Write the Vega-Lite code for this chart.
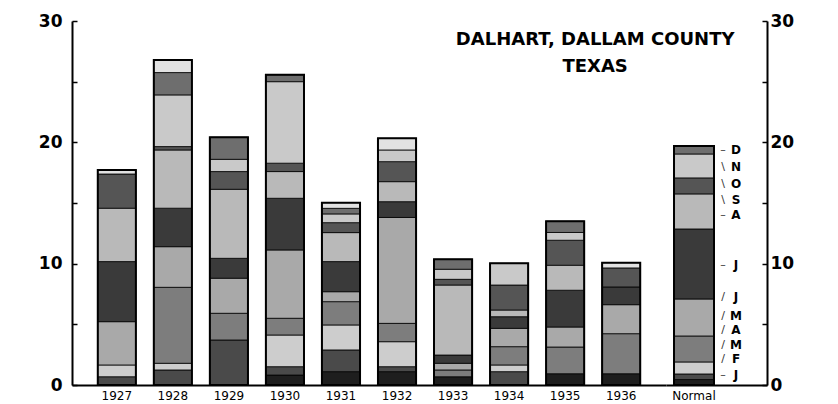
{
  "$schema": "https://vega.github.io/schema/vega-lite/v6.json",
  "background": "white",
  "padding": {"left": 38, "top": 12, "right": 0, "bottom": 0},
  "spacing": 0,
  "bounds": "flush",
  "config": {
    "view": {"stroke": null},
    "font": "DejaVu Sans",
    "axis": {"grid": false, "domainColor": "black", "domainWidth": 2, "tickColor": "black", "tickWidth": 1.5, "labelColor": "black", "labelFont": "DejaVu Sans"}
  },
  "datasets": {
    "years": [
      {"year": "1927", "month": "Feb", "m": 2, "v": 0.68},
      {"year": "1927", "month": "Mar", "m": 3, "v": 0.97},
      {"year": "1927", "month": "May", "m": 5, "v": 3.57},
      {"year": "1927", "month": "Jun", "m": 6, "v": 4.95},
      {"year": "1927", "month": "Jul", "m": 7, "v": 4.4},
      {"year": "1927", "month": "Aug", "m": 8, "v": 2.82},
      {"year": "1927", "month": "Nov", "m": 11, "v": 0.33},
      {"year": "1928", "month": "Feb", "m": 2, "v": 1.24},
      {"year": "1928", "month": "Mar", "m": 3, "v": 0.55},
      {"year": "1928", "month": "Apr", "m": 4, "v": 6.26},
      {"year": "1928", "month": "May", "m": 5, "v": 3.35},
      {"year": "1928", "month": "Jun", "m": 6, "v": 3.17},
      {"year": "1928", "month": "Jul", "m": 7, "v": 4.8},
      {"year": "1928", "month": "Aug", "m": 8, "v": 0.28},
      {"year": "1928", "month": "Sep", "m": 9, "v": 4.26},
      {"year": "1928", "month": "Oct", "m": 10, "v": 1.84},
      {"year": "1928", "month": "Nov", "m": 11, "v": 1.04},
      {"year": "1929", "month": "Feb", "m": 2, "v": 3.71},
      {"year": "1929", "month": "Apr", "m": 4, "v": 2.2},
      {"year": "1929", "month": "May", "m": 5, "v": 2.89},
      {"year": "1929", "month": "Jun", "m": 6, "v": 1.64},
      {"year": "1929", "month": "Jul", "m": 7, "v": 5.69},
      {"year": "1929", "month": "Aug", "m": 8, "v": 1.46},
      {"year": "1929", "month": "Sep", "m": 9, "v": 1.01},
      {"year": "1929", "month": "Oct", "m": 10, "v": 1.82},
      {"year": "1930", "month": "Jan", "m": 1, "v": 0.82},
      {"year": "1930", "month": "Feb", "m": 2, "v": 0.69},
      {"year": "1930", "month": "Mar", "m": 3, "v": 2.61},
      {"year": "1930", "month": "Apr", "m": 4, "v": 1.38},
      {"year": "1930", "month": "May", "m": 5, "v": 5.63},
      {"year": "1930", "month": "Jun", "m": 6, "v": 4.26},
      {"year": "1930", "month": "Jul", "m": 7, "v": 2.2},
      {"year": "1930", "month": "Aug", "m": 8, "v": 0.69},
      {"year": "1930", "month": "Sep", "m": 9, "v": 6.72},
      {"year": "1930", "month": "Oct", "m": 10, "v": 0.56},
      {"year": "1931", "month": "Jan", "m": 1, "v": 1.1},
      {"year": "1931", "month": "Feb", "m": 2, "v": 1.79},
      {"year": "1931", "month": "Mar", "m": 3, "v": 2.06},
      {"year": "1931", "month": "Apr", "m": 4, "v": 1.92},
      {"year": "1931", "month": "May", "m": 5, "v": 0.82},
      {"year": "1931", "month": "Jun", "m": 6, "v": 2.48},
      {"year": "1931", "month": "Jul", "m": 7, "v": 2.39},
      {"year": "1931", "month": "Aug", "m": 8, "v": 0.82},
      {"year": "1931", "month": "Sep", "m": 9, "v": 0.72},
      {"year": "1931", "month": "Oct", "m": 10, "v": 0.46},
      {"year": "1931", "month": "Nov", "m": 11, "v": 0.47},
      {"year": "1932", "month": "Jan", "m": 1, "v": 1.1},
      {"year": "1932", "month": "Feb", "m": 2, "v": 0.41},
      {"year": "1932", "month": "Mar", "m": 3, "v": 2.06},
      {"year": "1932", "month": "Apr", "m": 4, "v": 1.51},
      {"year": "1932", "month": "May", "m": 5, "v": 8.73},
      {"year": "1932", "month": "Jun", "m": 6, "v": 1.3},
      {"year": "1932", "month": "Jul", "m": 7, "v": 1.65},
      {"year": "1932", "month": "Aug", "m": 8, "v": 1.65},
      {"year": "1932", "month": "Sep", "m": 9, "v": 0.96},
      {"year": "1932", "month": "Nov", "m": 11, "v": 0.96},
      {"year": "1933", "month": "Jan", "m": 1, "v": 0.68},
      {"year": "1933", "month": "Apr", "m": 4, "v": 0.56},
      {"year": "1933", "month": "May", "m": 5, "v": 0.55},
      {"year": "1933", "month": "Jun", "m": 6, "v": 0.68},
      {"year": "1933", "month": "Jul", "m": 7, "v": 5.77},
      {"year": "1933", "month": "Aug", "m": 8, "v": 0.47},
      {"year": "1933", "month": "Sep", "m": 9, "v": 0.83},
      {"year": "1933", "month": "Oct", "m": 10, "v": 0.82},
      {"year": "1934", "month": "Feb", "m": 2, "v": 1.1},
      {"year": "1934", "month": "Mar", "m": 3, "v": 0.55},
      {"year": "1934", "month": "Apr", "m": 4, "v": 1.51},
      {"year": "1934", "month": "May", "m": 5, "v": 1.51},
      {"year": "1934", "month": "Jun", "m": 6, "v": 0.96},
      {"year": "1934", "month": "Jul", "m": 7, "v": 0.55},
      {"year": "1934", "month": "Aug", "m": 8, "v": 2.06},
      {"year": "1934", "month": "Sep", "m": 9, "v": 1.79},
      {"year": "1935", "month": "Jan", "m": 1, "v": 0.93},
      {"year": "1935", "month": "Apr", "m": 4, "v": 2.2},
      {"year": "1935", "month": "May", "m": 5, "v": 1.65},
      {"year": "1935", "month": "Jun", "m": 6, "v": 3.03},
      {"year": "1935", "month": "Jul", "m": 7, "v": 2.06},
      {"year": "1935", "month": "Aug", "m": 8, "v": 2.06},
      {"year": "1935", "month": "Sep", "m": 9, "v": 0.64},
      {"year": "1935", "month": "Oct", "m": 10, "v": 0.93},
      {"year": "1936", "month": "Jan", "m": 1, "v": 0.93},
      {"year": "1936", "month": "Apr", "m": 4, "v": 3.3},
      {"year": "1936", "month": "May", "m": 5, "v": 2.39},
      {"year": "1936", "month": "Jun", "m": 6, "v": 1.46},
      {"year": "1936", "month": "Aug", "m": 8, "v": 1.57},
      {"year": "1936", "month": "Nov", "m": 11, "v": 0.43}
    ],
    "normal": [
      {"year": "Normal", "month": "Jan", "m": 1, "v": 0.45},
      {"year": "Normal", "month": "Feb", "m": 2, "v": 0.46},
      {"year": "Normal", "month": "Mar", "m": 3, "v": 0.99},
      {"year": "Normal", "month": "Apr", "m": 4, "v": 2.14},
      {"year": "Normal", "month": "May", "m": 5, "v": 3.05},
      {"year": "Normal", "month": "Jun", "m": 6, "v": 5.77},
      {"year": "Normal", "month": "Jul", "m": 7, "v": 2.89},
      {"year": "Normal", "month": "Aug", "m": 8, "v": 1.32},
      {"year": "Normal", "month": "Sep", "m": 9, "v": 1.97},
      {"year": "Normal", "month": "Oct", "m": 10, "v": 0.66}
    ],
    "labels": [
      {"lab": "D", "lead": "–", "at": 19.37},
      {"lab": "N", "lead": "\\", "at": 18.0},
      {"lab": "O", "lead": "\\", "at": 16.55},
      {"lab": "S", "lead": "\\", "at": 15.25},
      {"lab": "A", "lead": "–", "at": 14.0},
      {"lab": "J", "lead": "–", "at": 9.9},
      {"lab": "J", "lead": "/", "at": 7.28},
      {"lab": "M", "lead": "/", "at": 5.71},
      {"lab": "A", "lead": "/", "at": 4.53},
      {"lab": "M", "lead": "/", "at": 3.3},
      {"lab": "F", "lead": "/", "at": 2.14},
      {"lab": "J", "lead": "–", "at": 0.82}
    ],
    "title": [
      {"line": "DALHART, DALLAM COUNTY", "at": 28.4},
      {"line": "TEXAS", "at": 26.2}
    ]
  },
  "hconcat": [
    {
      "width": 594,
      "height": 364,
      "layer": [
        {
          "data": {"name": "years"},
          "mark": {"type": "bar", "stroke": "black", "strokeWidth": 0.8},
          "encoding": {
            "x": {"field": "year", "type": "nominal", "title": null,
                  "scale": {"paddingInner": 0.32, "paddingOuter": 0.46},
                  "axis": {"labelAngle": 0, "ticks": false, "labelFontSize": 12, "labelPadding": 5}},
            "y": {"field": "v", "type": "quantitative", "stack": "zero", "title": null,
                  "scale": {"domain": [0, 30], "nice": false},
                  "axis": {"values": [0, 5, 10, 15, 20, 25, 30], "labelExpr": "datum.value % 10 == 0 ? datum.label : ''",
                           "tickSize": -5, "labelPadding": 15, "labelFontSize": 17, "labelFontWeight": "bold"}},
            "color": {"field": "month", "type": "nominal", "legend": null,
                      "scale": {"domain": ["Jan","Feb","Mar","Apr","May","Jun","Jul","Aug","Sep","Oct","Nov","Dec"],
                                "range": ["#1e1e1e","#4a4a4a","#cdcdcd","#7d7d7d","#a9a9a9","#3a3a3a","#b9b9b9","#555555","#c9c9c9","#6e6e6e","#e2e2e2","#999999"]}},
            "order": {"field": "m", "type": "quantitative"}
          }
        },
        {
          "data": {"name": "years"},
          "mark": {"type": "bar", "fillOpacity": 0, "stroke": "black", "strokeWidth": 2},
          "encoding": {
            "x": {"field": "year", "type": "nominal", "title": null},
            "y": {"aggregate": "sum", "field": "v", "type": "quantitative", "title": null}
          }
        },
        {
          "data": {"name": "title"},
          "mark": {"type": "text", "font": "DejaVu Sans", "fontSize": 18, "fontWeight": "bold", "dx": 30, "align": "center", "baseline": "middle", "color": "black"},
          "encoding": {"x": {"datum": "1935"}, "y": {"field": "at", "type": "quantitative"}, "text": {"field": "line"}}
        }
      ]
    },
    {
      "width": 101,
      "height": 364,
      "layer": [
        {
          "data": {"name": "normal"},
          "mark": {"type": "bar", "stroke": "black", "strokeWidth": 0.8},
          "encoding": {
            "x": {"field": "year", "type": "nominal", "title": null,
                  "scale": {"domain": ["Normal", "_"], "paddingInner": 0.111, "paddingOuter": 0.178},
                  "axis": {"labelAngle": 0, "ticks": false, "labelFontSize": 12, "labelPadding": 5, "labelExpr": "datum.value == '_' ? '' : datum.label"}},
            "y": {"field": "v", "type": "quantitative", "stack": "zero", "title": null,
                  "scale": {"domain": [0, 30], "nice": false},
                  "axis": {"orient": "right", "values": [0, 5, 10, 15, 20, 25, 30], "labelExpr": "datum.value % 10 == 0 ? datum.label : ''",
                           "tickSize": -5, "labelPadding": 8, "labelFontSize": 17, "labelFontWeight": "bold"}},
            "color": {"field": "month", "type": "nominal", "legend": null,
                      "scale": {"domain": ["Jan","Feb","Mar","Apr","May","Jun","Jul","Aug","Sep","Oct","Nov","Dec"],
                                "range": ["#1e1e1e","#4a4a4a","#cdcdcd","#7d7d7d","#a9a9a9","#3a3a3a","#b9b9b9","#555555","#c9c9c9","#6e6e6e","#e2e2e2","#999999"]}},
            "order": {"field": "m", "type": "quantitative"}
          }
        },
        {
          "data": {"name": "normal"},
          "mark": {"type": "bar", "fillOpacity": 0, "stroke": "black", "strokeWidth": 2},
          "encoding": {
            "x": {"field": "year", "type": "nominal", "title": null},
            "y": {"aggregate": "sum", "field": "v", "type": "quantitative", "title": null}
          }
        },
        {
          "data": {"name": "labels"},
          "mark": {"type": "text", "font": "DejaVu Sans", "fontSize": 12, "fontWeight": "bold", "dx": 42, "align": "center", "baseline": "middle", "color": "black"},
          "encoding": {"x": {"datum": "Normal"}, "y": {"field": "at", "type": "quantitative"}, "text": {"field": "lab"}}
        },
        {
          "data": {"name": "labels"},
          "mark": {"type": "text", "font": "DejaVu Sans", "fontSize": 11, "dx": 29, "align": "center", "baseline": "middle", "color": "#333"},
          "encoding": {"x": {"datum": "Normal"}, "y": {"field": "at", "type": "quantitative"}, "text": {"field": "lead"}}
        }
      ]
    }
  ]
}
